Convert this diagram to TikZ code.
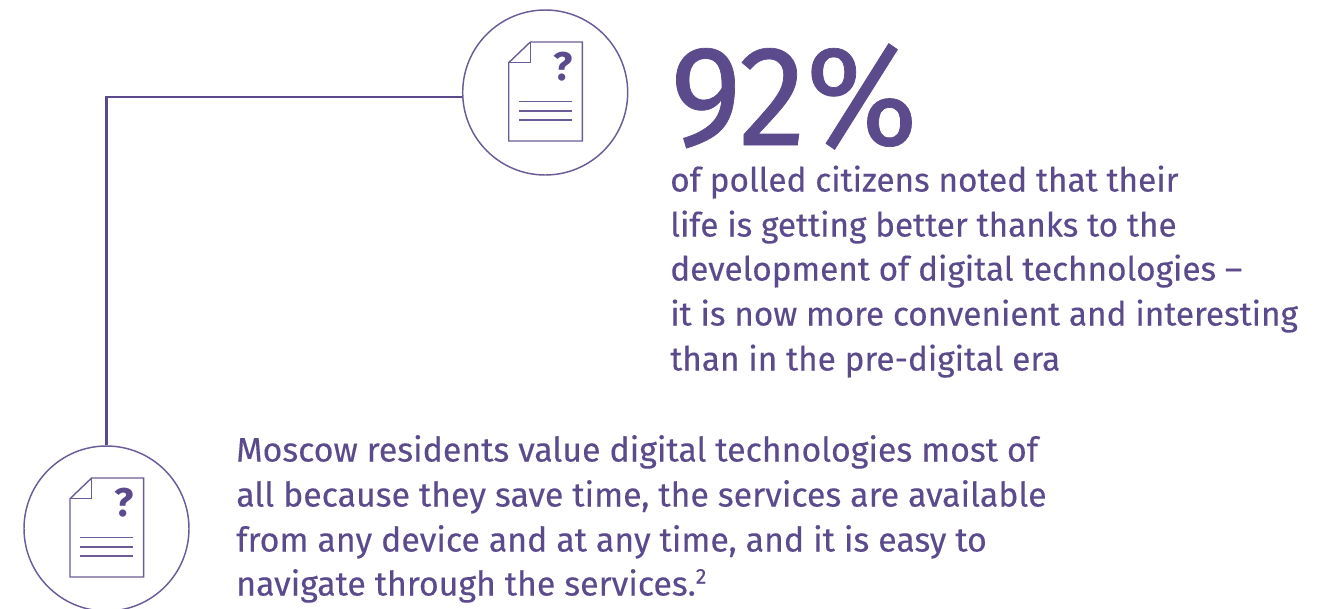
\documentclass[tikz,border=0pt]{standalone}
\usepackage{fontspec}
\setmainfont{Fira Sans}
\newfontfamily\medf[FakeBold=0.25]{Fira Sans}
\newfontfamily\bigf[FakeBold=0.5,FakeStretch=0.95]{Fira Sans}
\definecolor{pur}{HTML}{5B4A8C}
\tikzset{
 ln/.style={draw=pur!90!white,line width=1.05pt},
 txt/.style={text=pur,anchor=base west,inner sep=0pt,font=\medf\fontsize{25}{30}\selectfont},
 txb/.style={txt,font=\medf\fontsize{25.4}{30}\selectfont},
 circ/.style={circle,draw=pur!90!white,line width=1.1pt,minimum size=123.75pt,inner sep=0pt}
}
\begin{document}
\begin{tikzpicture}[x=0.75pt,y=-0.75pt]
\useasboundingbox (0,0) rectangle (1335,608);
\node[circ] (c1) at (545.2,92.5) {};
\node[circ] (c2) at (106.5,528.5) {};
\coordinate (k) at (106.5,96.7);
\draw[draw=pur,line width=1.7pt] (c2.north) -- (k) -- (k -| c1.west);
\foreach \dx/\dy/\n in {0/0/a,-438.7/436/b}{
\begin{scope}[xshift=\dx*0.75pt,yshift=-\dy*0.75pt]
\draw[ln] (508.7,62.7) -- (530.3,42) -- (582.3,42) -- (582.3,141) -- (508.7,141) -- cycle;
\draw[ln] (508.7,62.7) -- (530.3,62.7) -- (530.3,42);
\draw[ln] (519,101.3) -- (572,101.3) (519,111) -- (572,111) (519,120) -- (572,120);
\node[text=pur,font=\bfseries\fontsize{30}{32}\selectfont,inner sep=0pt] (q\n) at (563,66.7) {?};
\end{scope}}
\node[txt,font=\bigf\fontsize{107}{110}\selectfont] (big) at (670,145) {92\%};
\node[txt] (t1) at (670,191.5) {of polled citizens noted that their};
\node[txt] (t2) at (670,236.5) {life is getting better thanks to the};
\node[txt] (t3) at (670,280.5) {development of digital technologies –};
\node[txt] (t4) at (670,325.5) {it is now more convenient and interesting};
\node[txt] (t5) at (670,370.5) {than in the pre-digital era};
\node[txb] (b1) at (236,461.5) {Moscow residents value digital technologies most of};
\node[txb] (b2) at (236,506.5) {all because they save time, the services are available};
\node[txb] (b3) at (236,551.5) {from any device and at any time, and it is easy to};
\node[txb] (b4) at (236,595.5) {navigate through the services.{\fontsize{16}{16}\selectfont\raisebox{9pt}{2}}};
\end{tikzpicture}
\end{document}
